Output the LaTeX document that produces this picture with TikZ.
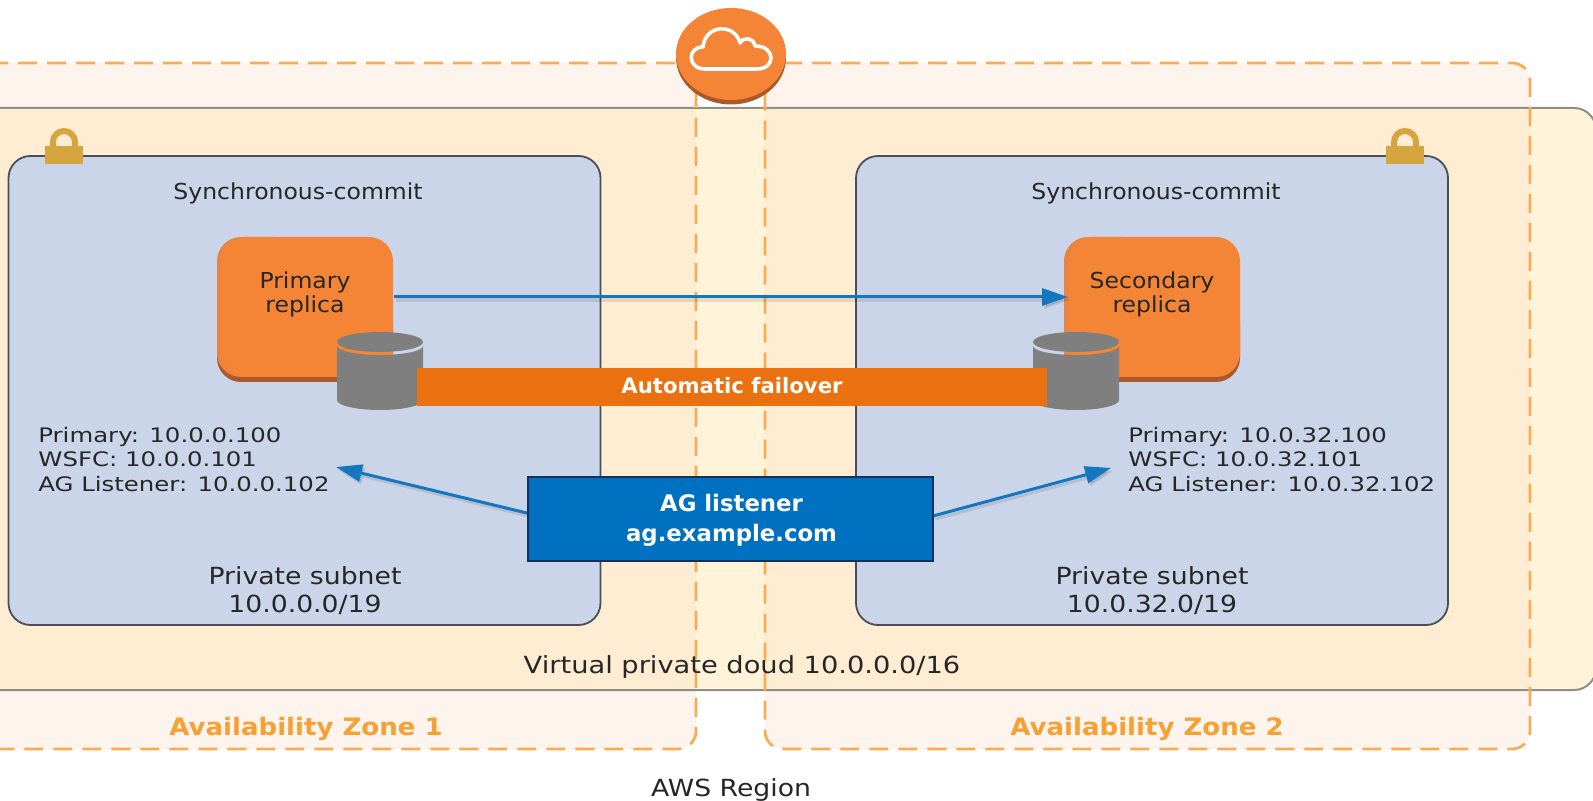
\documentclass[tikz,border=0pt]{standalone}
\usepackage{fontspec}
\setmainfont{DejaVu Sans}
\newfontfamily\wideA[FakeStretch=1.22]{DejaVu Sans}
\newfontfamily\wideB[FakeStretch=1.07]{DejaVu Sans}
\newfontfamily\wideC[FakeStretch=1.13]{DejaVu Sans}
\newfontfamily\wideV[FakeStretch=1.155]{DejaVu Sans}
\newfontfamily\wideZ[FakeStretch=1.085]{DejaVu Sans Bold}
\usetikzlibrary{arrows.meta,shapes.geometric}
\definecolor{azfill}{HTML}{FEF4EE}
\definecolor{azline}{HTML}{F9AC55}
\definecolor{vpcfill}{HTML}{FFF4D9}
\definecolor{vpcline}{HTML}{8F8F87}
\definecolor{overlap}{HTML}{FEEDD3}
\definecolor{subnetfill}{HTML}{CAD5E9}
\definecolor{subnetline}{HTML}{4A4F57}
\definecolor{awsorange}{HTML}{F58536}
\definecolor{awsstrip}{HTML}{E8843F}
\definecolor{awsdark}{HTML}{A9592A}
\definecolor{failover}{HTML}{EB700F}
\definecolor{listener}{HTML}{0070C0}
\definecolor{listline}{HTML}{12305A}
\definecolor{arrowblue}{HTML}{1477BE}
\definecolor{dbgrey}{HTML}{7F7F7F}
\definecolor{lockgold}{HTML}{D6A63E}
\definecolor{zonetext}{HTML}{F7A033}
\tikzset{
  x=0.5pt,y=-0.5pt,
  subnetbox/.style={draw=subnetline,line width=0.9pt,fill=subnetfill,rounded corners=11pt},
  azbox/.style={draw=azline,line width=1.4pt,dash pattern=on 9.5pt off 5pt,rounded corners=9pt},
  lbl/.style={font=\fontsize{11.8}{14}\selectfont\wideC,text=black!85,align=center,inner sep=0pt},
  lblb/.style={font=\fontsize{11}{11.8}\selectfont\wideB,text=black!85,align=center,inner sep=0pt},
  small/.style={font=\fontsize{10}{12.2}\selectfont\wideA,text=black!85,align=left,inner sep=0pt},
  zonelbl/.style={font=\fontsize{12}{14}\selectfont\wideZ,text=zonetext,inner sep=0pt},
  bluearrow/.style={draw=arrowblue,line width=1.5pt,-{Triangle[length=13pt,width=8.5pt]}},
  arrowshadow/.style={draw=black,opacity=0.1,line width=1.6pt,-{Triangle[length=13pt,width=8.5pt]}},
  replica/.style={fill=awsorange,rounded corners=12pt,inner sep=0pt},
}
\newcommand{\dbcyl}[1]{%
  \fill[dbgrey] (#1-43,346) arc[x radius=21.5pt,y radius=4.5pt,start angle=180,end angle=360]
     -- (#1+43,400) arc[x radius=21.5pt,y radius=5pt,start angle=0,end angle=-180] -- cycle;
  \fill[dbgrey] (#1,342) ellipse[x radius=21.5pt,y radius=5pt];
}
\newcommand{\lockicon}[1]{%
  \draw[lockgold,line width=3pt] (#1-11,150) -- (#1-11,142) arc[radius=5.5pt,start angle=180,end angle=0] -- (#1+11,150);
  \fill[lockgold] (#1-19,146) rectangle (#1+19,164);
}
\begin{document}
\begin{tikzpicture}
\useasboundingbox (0,0) rectangle (1593,801);
\fill[white] (0,0) rectangle (1593,801);
% availability zones
\fill[azfill,rounded corners=9pt] (-40,63) -- (696,63) -- (696,749) -- (-40,749) -- cycle;
\fill[azfill,rounded corners=9pt] (765,63) -- (1530,63) -- (1530,749) -- (765,749) -- cycle;
% vpc
\fill[vpcfill,rounded corners=11pt] (-40,108) rectangle (1596,690);
\fill[overlap] (-40,108) rectangle (696,690);
\fill[overlap] (765,108) rectangle (1530,690);
\draw[vpcline,line width=1pt,rounded corners=11pt] (-40,108) rectangle (1596,690);
\draw[azbox] (-40,63) -- (696,63) -- (696,749) -- (-40,749);
\draw[azbox] (765,63) -- (1530,63) -- (1530,749) -- (765,749) -- cycle;
% subnets
\node[subnetbox,minimum width=296pt,minimum height=234.5pt,inner sep=0pt] (subA) at (304.5,390.5) {};
\node[subnetbox,minimum width=296pt,minimum height=234.5pt,inner sep=0pt] (subB) at (1152,390.5) {};
\lockicon{64}
\lockicon{1405}
% cloud
\fill[awsdark] (731,57.5) ellipse[x radius=27.5pt,y radius=23.5pt];
\node[ellipse,fill=awsorange,minimum width=55pt,minimum height=46pt,inner sep=0pt] (gw) at (731,54) {};
\draw[white,line width=1.8pt,line join=round]
  (705,69) .. controls (687,69) and (687,47) .. (703,47)
  .. controls (705,24) and (735,23) .. (740,43)
  .. controls (744,36) and (754,38) .. (755,46)
  .. controls (776,46) and (776,69) .. (757,69) -- cycle;
% replicas
\fill[awsdark,rounded corners=12pt] (217,300) rectangle (393,382);
\fill[awsstrip,rounded corners=12pt] (217,237) rectangle (300,377);
\node[replica,minimum width=86pt,minimum height=70pt] (prim) at (307,307) {};
\fill[awsdark,rounded corners=12pt] (1064,300) rectangle (1240,382);
\fill[awsstrip,rounded corners=12pt] (1064,237) rectangle (1150,377);
\node[replica,minimum width=85.5pt,minimum height=70pt] (sec) at (1154.5,307) {};
\node[lblb] (primlbl) at (305,294.5) {Primary\\replica};
\node[lblb] (seclbl) at (1152,294.5) {Secondary\\replica};
% connector primary->secondary
\coordinate (pa) at (394,297);
\coordinate (sa) at (1068,297);
\draw[arrowshadow] ([xshift=1pt,yshift=-1.5pt]pa) -- ([xshift=1pt,yshift=-1.5pt]sa);
\draw[bluearrow] (pa) -- (sa);
% failover
\dbcyl{380}
\dbcyl{1076}
\node[fill=failover,minimum width=315pt,minimum height=19pt,inner sep=0pt] (fail) at (732,387) {};
\node[text=white,inner sep=0pt,font=\fontsize{10.6}{12}\selectfont\bfseries] (faillbl) at (732,386) {Automatic failover};
% listener
\coordinate (la) at (336,467);
\coordinate (ra) at (1111,468);
\coordinate (ag1) at (531,514);
\coordinate (ag2) at (933,516);
\draw[arrowshadow] ([xshift=1pt,yshift=-1.5pt]ag1) -- ([xshift=1pt,yshift=-1.5pt]la);
\draw[arrowshadow] ([xshift=1pt,yshift=-1.5pt]ag2) -- ([xshift=1pt,yshift=-1.5pt]ra);
\draw[bluearrow] (ag1) -- (la);
\draw[bluearrow] (ag2) -- (ra);
\node[draw=listline,line width=0.9pt,fill=listener,minimum width=202.5pt,minimum height=42pt,inner sep=0pt] (ag) at (730.5,519) {};
\node[text=white,align=center,inner sep=0pt,font=\fontsize{11.4}{15.2}\selectfont\bfseries] (aglbl) at (731.5,520) {AG listener\\ag.example.com};
% addresses
\node[small,anchor=north west] (addrA) at (38,427) {Primary: 10.0.0.100\\WSFC: 10.0.0.101\\AG Listener: 10.0.0.102};
\node[small,anchor=north west] (addrB) at (1128,427) {Primary: 10.0.32.100\\WSFC: 10.0.32.101\\AG Listener: 10.0.32.102};
\node[lblb] (syncA) at (298,193) {Synchronous-commit};
\node[lblb] (syncB) at (1156,193) {Synchronous-commit};
\node[lbl] (privA) at (305,591) {Private subnet\\10.0.0.0/19};
\node[lbl] (privB) at (1152,591) {Private subnet\\10.0.32.0/19};
\node[lbl,font=\fontsize{11.8}{14}\selectfont\wideV] (vpclbl) at (742,667) {Virtual private doud 10.0.0.0/16};
\node[zonelbl] (zone1) at (306,728.5) {Availability Zone 1};
\node[zonelbl] (zone2) at (1147,728.5) {Availability Zone 2};
\node[lbl] (region) at (731,790) {AWS Region};
\end{tikzpicture}
\end{document}
